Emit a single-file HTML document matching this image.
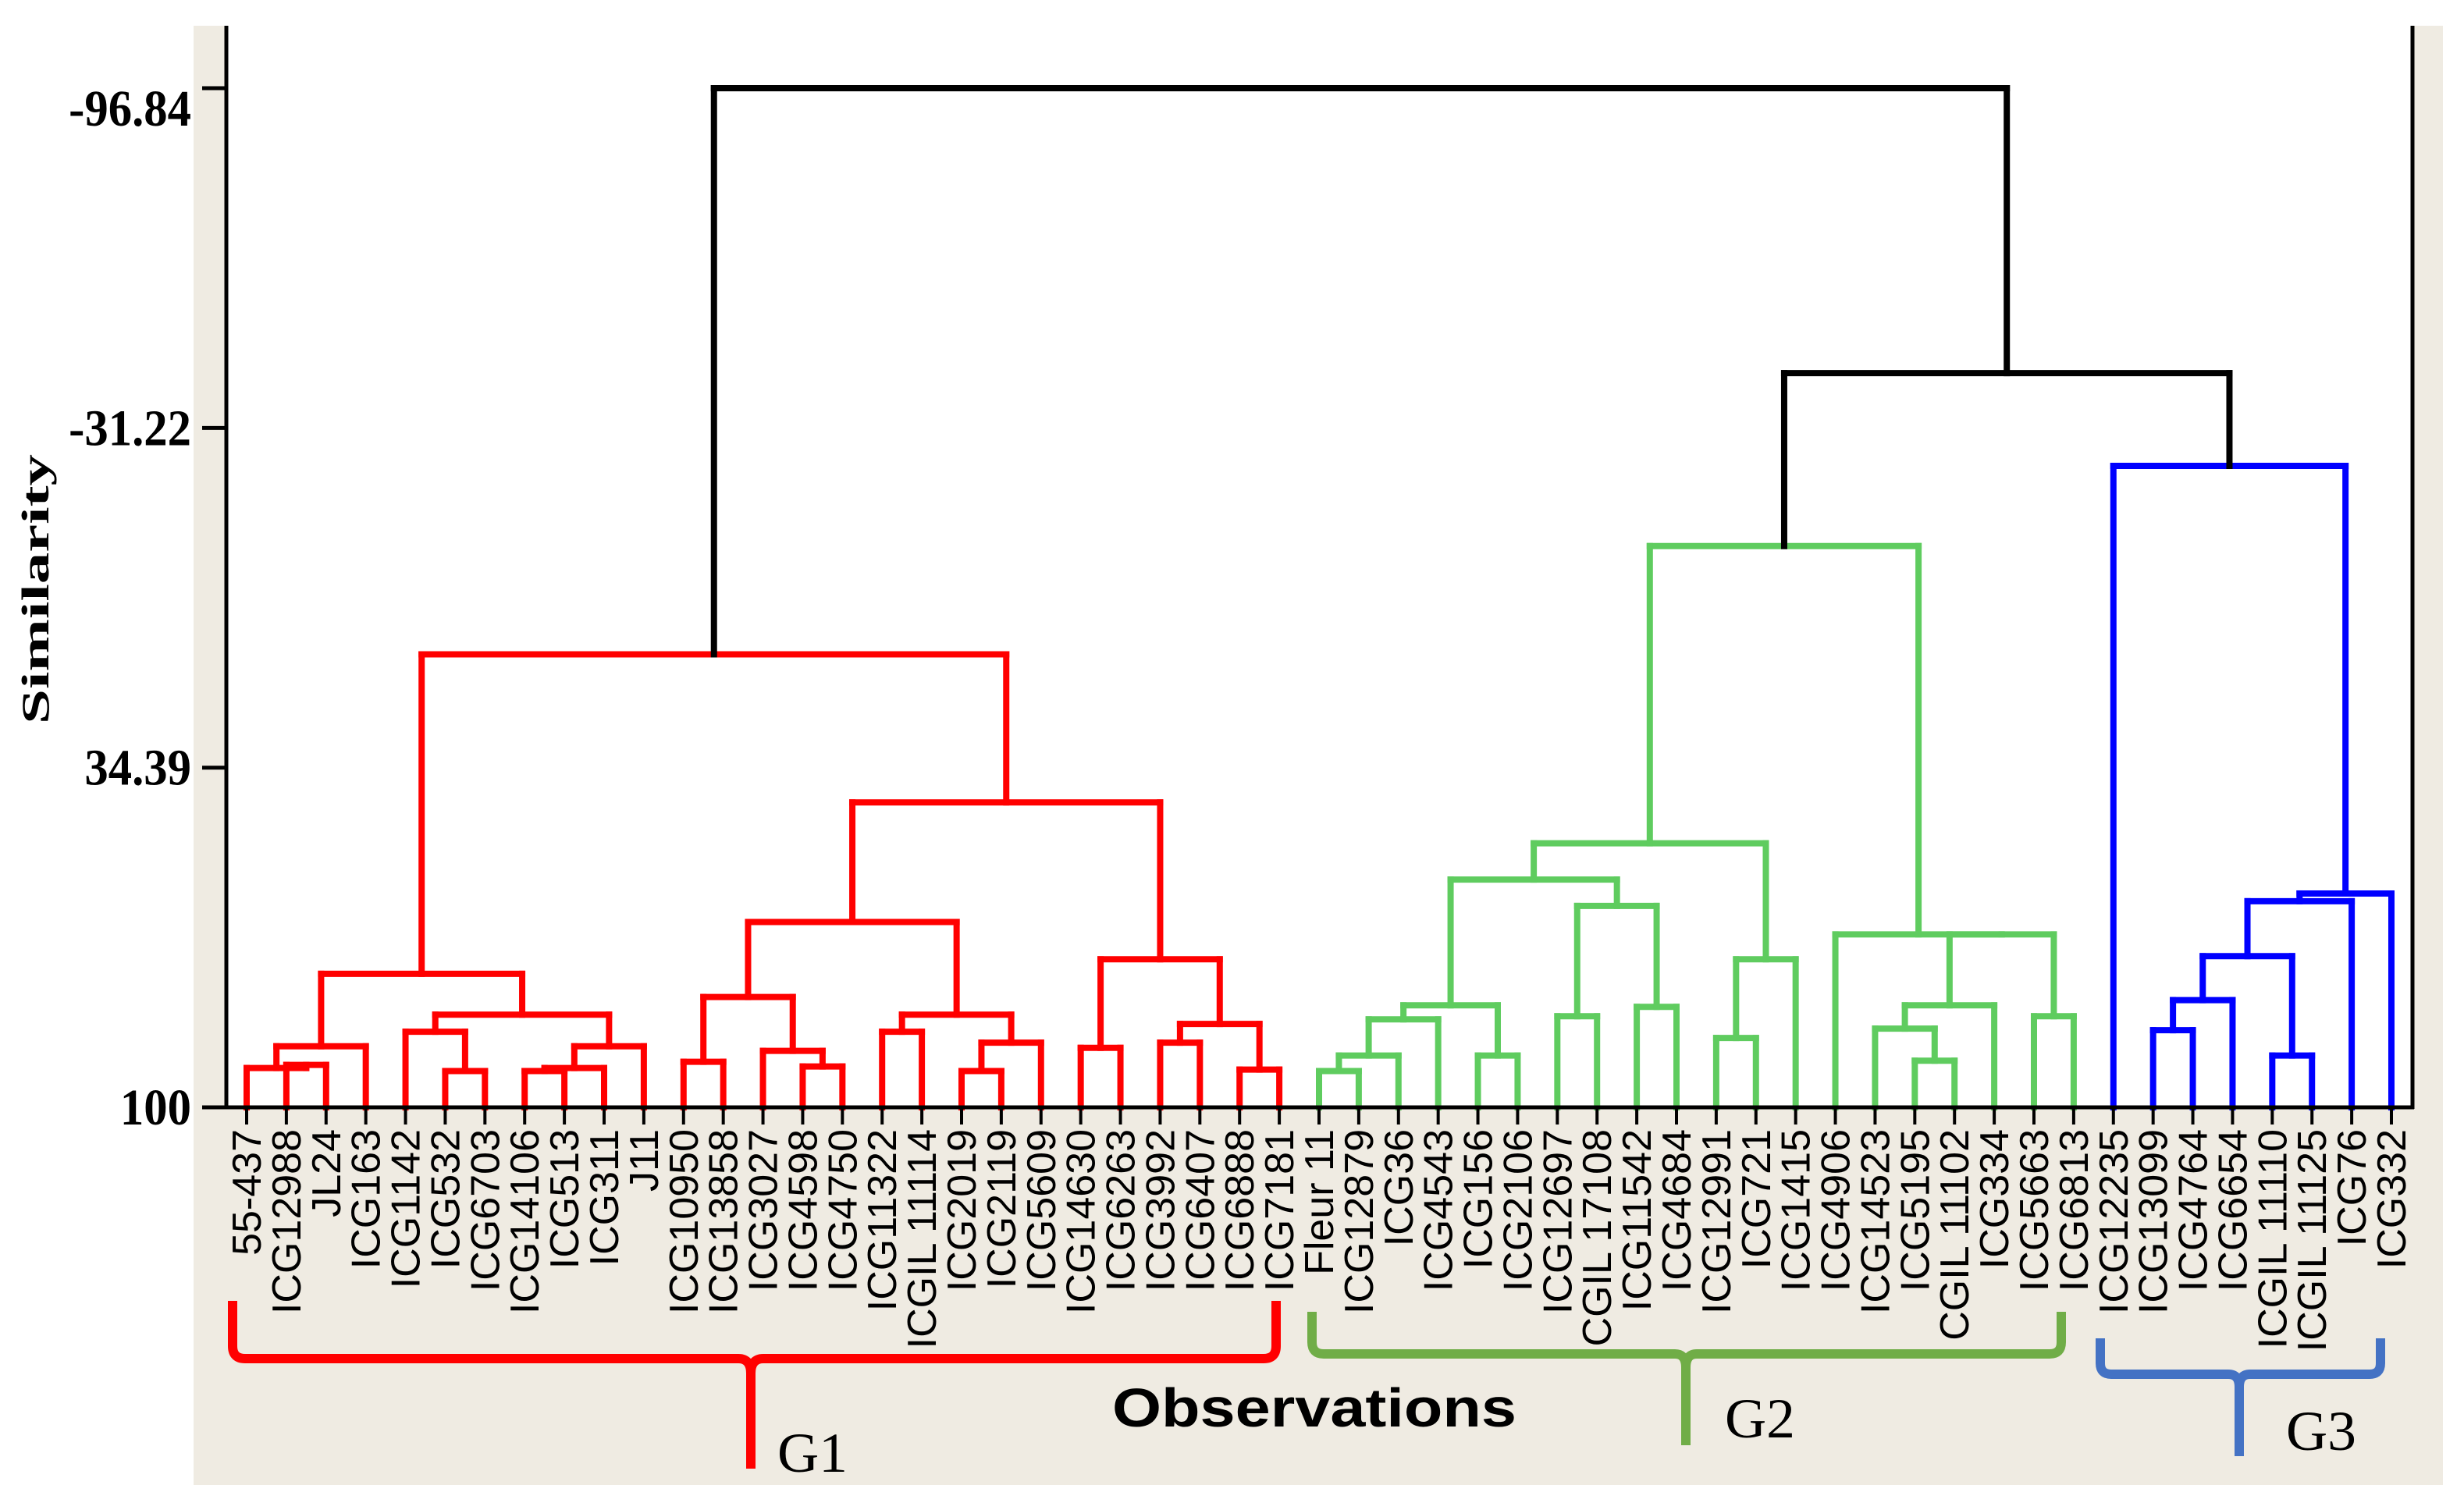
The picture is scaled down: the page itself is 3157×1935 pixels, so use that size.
<!DOCTYPE html>
<html><head><meta charset="utf-8"><style>
html,body{margin:0;padding:0;background:#fff;}
svg{display:block;}
</style></head><body>
<svg id="chart" width="3157" height="1935" viewBox="0 0 3157 1935" xmlns="http://www.w3.org/2000/svg">
<rect x="248" y="33" width="2882" height="1870" fill="#efebe2"/>
<rect x="290" y="33" width="2801" height="1386" fill="#ffffff"/>
<g id="marks"></g>
<g id="axes">
<line x1="290" y1="33" x2="290" y2="1421" stroke="#000" stroke-width="5"/>
<line x1="3091" y1="33" x2="3091" y2="1421" stroke="#000" stroke-width="5"/>
<line x1="288" y1="1419" x2="3093" y2="1419" stroke="#000" stroke-width="5"/>
</g>
<g id="yticks"></g>
<g id="xlabels"></g>
<text transform="translate(62,755) rotate(-90)" text-anchor="middle" font-family="Liberation Serif, serif" font-weight="bold" font-size="50" textLength="346" lengthAdjust="spacingAndGlyphs">Similarity</text>
<text x="1425" y="1828" font-family="Liberation Sans, sans-serif" font-weight="bold" font-size="70" textLength="518" lengthAdjust="spacingAndGlyphs">Observations</text>
<path d="M298,1667 L298,1725 Q298,1741 314,1741 L946,1741 Q962,1741 962,1760 L962,1882 M962,1760 Q962,1741 978,1741 L1619,1741 Q1635,1741 1635,1725 L1635,1667" fill="none" stroke="#ff0000" stroke-width="12"/>
<path d="M1681,1681 L1681,1720 Q1681,1735 1696,1735 L2146,1735 Q2160,1735 2160,1752 L2160,1852 M2160,1752 Q2160,1735 2174,1735 L2626,1735 Q2641,1735 2641,1720 L2641,1681" fill="none" stroke="#70ad47" stroke-width="12"/>
<path d="M2691,1715 L2691,1747 Q2691,1761 2705,1761 L2855,1761 Q2869,1761 2869,1777 L2869,1866 M2869,1777 Q2869,1761 2883,1761 L3036,1761 Q3050,1761 3050,1747 L3050,1715" fill="none" stroke="#4472c4" stroke-width="12"/>
<text x="996" y="1886" font-family="Liberation Serif, serif" font-size="72" textLength="90" lengthAdjust="spacingAndGlyphs">G1</text>
<text x="2210" y="1842" font-family="Liberation Serif, serif" font-size="72" textLength="90" lengthAdjust="spacingAndGlyphs">G2</text>
<text x="2929" y="1858" font-family="Liberation Serif, serif" font-size="72" textLength="90" lengthAdjust="spacingAndGlyphs">G3</text>
</svg>
<script>
const leafNames=["55-437","ICG12988","JL24","ICG163","ICG1142","ICG532","ICG6703","ICG14106","ICG513","ICG311","J11","ICG10950","ICG13858","ICG3027","ICG4598","ICG4750","ICG11322","ICGIL 11114","ICG2019","ICG2119","ICG5609","ICG14630","ICG6263","ICG3992","ICG6407","ICG6888","ICG7181",
"Fleur 11","ICG12879","ICG36","ICG4543","ICG156","ICG2106","ICG12697","CGIL 17108","ICG11542","ICG4684","ICG12991","ICG721","ICG1415","ICG4906","ICG14523","ICG5195","CGIL 11102","ICG334","ICG5663","ICG6813",
"ICG12235","ICG13099","ICG4764","ICG6654","ICGIL 11110","ICGIL 11125","ICG76","ICG332"];
const groupSizes=[27,20,8];
const groupColors=["#ff0000","#5fcc5f","#0000ff"];
const mergeLeft=[1,0,56,5,4,7,60,61,59,57,11,14,13,65,16,18,70,69,68,21,23,25,75,74,73,64,27,81,82,31,83,33,35,86,85,37,90,89,42,41,94,45,95,40,92,48,100,51,101,103,104,47,99,80];
const mergeRight=[2,55,3,6,58,8,9,10,62,63,12,15,66,67,17,19,20,71,72,22,24,26,76,77,78,79,28,29,30,32,84,34,36,87,88,38,39,91,43,93,44,46,96,97,98,49,50,52,102,53,54,105,106,107];
const mergeHeight=[91.8,92.4,88.2,93.0,85.4,93.0,92.4,88.2,82.1,74.2,91.2,92.1,89.1,78.7,85.4,93.0,87.5,82.1,64.2,88.5,87.5,92.7,83.9,71.4,41.1,12.5,
93.0,90.0,83.0,90.0,80.3,82.4,80.6,61.1,56.0,86.6,71.4,49.0,91.0,84.8,80.3,82.4,66.6,66.6,-8.4,
85.1,79.3,90.0,70.8,60.2,58.7,-23.9,-41.8,-96.84];
const yTickValues=[-96.84,-31.22,34.39,100];
const yTickLabels=["-96.84","-31.22","34.39","100"];

const NS="http://www.w3.org/2000/svg";
const N=leafNames.length;
function xLeaf(i){return 316+i*(3064-316)/(N-1);}
function yVal(v){return 1419-(100-v)*(1306/196.84);}
const leafGroup=[];groupSizes.forEach((s,g)=>{for(let k=0;k<s;k++)leafGroup.push(g);});
const nodeX=[],nodeY=[],nodeG=[];
for(let i=0;i<N;i++){nodeX.push(xLeaf(i));nodeY.push(yVal(100));nodeG.push(leafGroup[i]);}
const marks=document.getElementById('marks');
function ln(x1,y1,x2,y2,c){const l=document.createElementNS(NS,'line');l.setAttribute('x1',x1);l.setAttribute('y1',y1);l.setAttribute('x2',x2);l.setAttribute('y2',y2);l.setAttribute('stroke',c);l.setAttribute('stroke-width',8);l.setAttribute('stroke-linecap','square');return l;}
for(let m=0;m<mergeLeft.length;m++){
  const a=mergeLeft[m],b=mergeRight[m];
  const y=yVal(mergeHeight[m]);
  const g=(nodeG[a]===nodeG[b])?nodeG[a]:-1;
  const c=g>=0?groupColors[g]:"#000000";
  const grp=document.createElementNS(NS,'g');
  
  
  grp.appendChild(ln(nodeX[a],y,nodeX[b],y,c));
  grp.appendChild(ln(nodeX[a],nodeY[a],nodeX[a],y,c));
  grp.appendChild(ln(nodeX[b],nodeY[b],nodeX[b],y,c));
  marks.appendChild(grp);
  nodeX.push((nodeX[a]+nodeX[b])/2);nodeY.push(y);nodeG.push(g);
}
const xl=document.getElementById('xlabels');
for(let i=0;i<N;i++){
  const x=xLeaf(i);
  const t=document.createElementNS(NS,'line');
  t.setAttribute('x1',x);t.setAttribute('y1',1419);t.setAttribute('x2',x);t.setAttribute('y2',1441);
  t.setAttribute('stroke','#000');t.setAttribute('stroke-width',4);
  
  
  xl.appendChild(t);
  const tx=document.createElementNS(NS,'text');
  tx.setAttribute('transform','translate('+(x+18)+',1447) rotate(-90)');
  tx.setAttribute('text-anchor','end');
  tx.setAttribute('font-family','Liberation Sans, sans-serif');
  tx.setAttribute('font-size','52');
  tx.textContent=leafNames[i];
  
  
  xl.appendChild(tx);
}
const yt=document.getElementById('yticks');
yTickValues.forEach((v,i)=>{
  const y=yVal(v);
  const t=document.createElementNS(NS,'line');
  t.setAttribute('x1',259);t.setAttribute('y1',y);t.setAttribute('x2',290);t.setAttribute('y2',y);
  t.setAttribute('stroke','#000');t.setAttribute('stroke-width',5);
  
  
  yt.appendChild(t);
  const tx=document.createElementNS(NS,'text');
  const off=(i===0)?48:22;
  tx.setAttribute('transform','translate(245,'+(y+off)+') scale(0.92,1)');
  tx.setAttribute('text-anchor','end');
  tx.setAttribute('font-family','Liberation Serif, serif');
  tx.setAttribute('font-weight','bold');
  tx.setAttribute('font-size','66');
  tx.textContent=yTickLabels[i];
  
  
  yt.appendChild(tx);
});
</script>
</body></html>
